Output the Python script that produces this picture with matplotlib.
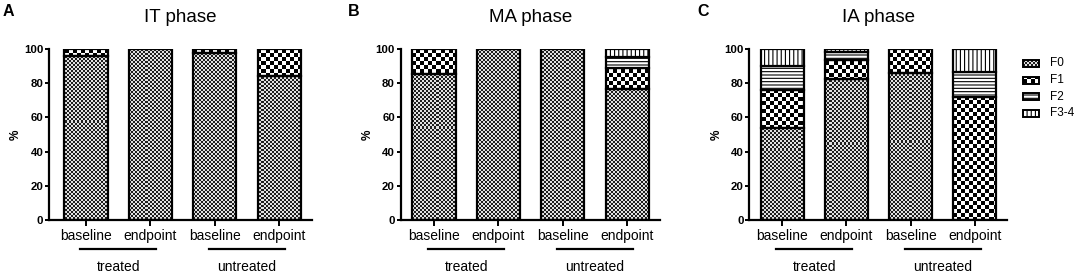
import numpy as np
import matplotlib
matplotlib.use("Agg")
import matplotlib.pyplot as plt
from matplotlib.patches import Rectangle

plt.rcParams['font.family'] = ['Liberation Sans', 'DejaVu Sans']
plt.rcParams['hatch.linewidth'] = 0.8

# ---------------- data ----------------
categories = ['baseline', 'endpoint', 'baseline', 'endpoint']
groups = ['treated', 'untreated']
stages = ['F0', 'F1', 'F2', 'F3-4']
panel_titles = ['IT phase', 'MA phase', 'IA phase']
panel_letters = ['A', 'B', 'C']
yticks = [0, 20, 40, 60, 80, 100]

it_f0 = [96.0, 100.0, 97.5, 84.5]
it_f1 = [4.0, 0.0, 2.5, 15.5]
it_f2 = [0.0, 0.0, 0.0, 0.0]
it_f3 = [0.0, 0.0, 0.0, 0.0]

ma_f0 = [85.5, 100.0, 100.0, 76.5]
ma_f1 = [14.5, 0.0, 0.0, 12.2]
ma_f2 = [0.0, 0.0, 0.0, 6.8]
ma_f3 = [0.0, 0.0, 0.0, 4.5]

ia_f0 = [54.0, 82.5, 86.0, 0.0]
ia_f1 = [22.0, 11.0, 14.0, 72.0]
ia_f2 = [14.0, 4.5, 0.0, 14.5]
ia_f3 = [10.0, 2.0, 0.0, 13.5]

panels = [
    [it_f0, it_f1, it_f2, it_f3],
    [ma_f0, ma_f1, ma_f2, ma_f3],
    [ia_f0, ia_f1, ia_f2, ia_f3],
]

# ---------------- styling ----------------
W, H = 1084, 276
fig = plt.figure(figsize=(W / 100, H / 100), dpi=100)
fig.patch.set_facecolor('white')

# axes boxes in pixels: (left, right)
ax_px = [(49, 312), (400.5, 660), (749.3, 1007)]
xlims = [(-0.575, 3.51), (-0.52, 3.51), (-0.51, 3.50)]
ax_top, ax_bot = 49, 220
bar_w = 0.67


def checker(h, w, cell, c0, c1):
    yy, xx = np.indices((h, w))
    return np.where(((yy // cell) + (xx // cell)) % 2 == 0, c0, c1)


# texture spec: F0 fine checker, F1 coarse checker, F2 horiz, F3 vert hatch
tex = {0: (2, 0.12, 0.88), 1: (4, 0.0, 1.0)}
hatches = {2: '-----', 3: '||||'}

x = np.arange(len(categories))
for p, series in enumerate(panels):
    l, r = ax_px[p]
    ax = fig.add_axes([l / W, (H - ax_bot) / H, (r - l) / W, (ax_bot - ax_top) / H])
    ax.set_xlim(*xlims[p])
    ax.set_ylim(0, 100)
    pw, ph = int(round(r - l)), ax_bot - ax_top
    bottom = np.zeros(len(categories))
    for s, vals in enumerate(series):
        vals = np.array(vals, dtype=float)
        if s in hatches:
            bars = ax.bar(x, vals, bar_w, bottom=bottom, facecolor='white',
                          edgecolor='black', linewidth=1.6, hatch=hatches[s], zorder=2)
        else:
            bars = ax.bar(x, vals, bar_w, bottom=bottom, facecolor='none',
                          edgecolor='black', linewidth=1.6, zorder=2)
        for patch, v in zip(bars.patches, vals):
            if v <= 0:
                patch.set_visible(False)
                continue
            if s in tex:
                cell, c0, c1 = tex[s]
                img = ax.imshow(checker(ph, pw, cell, c0, c1), cmap='gray', vmin=0, vmax=1,
                                extent=(*xlims[p], 0, 100), aspect='auto',
                                interpolation='nearest', zorder=1.5)
                img.set_clip_path(patch)
        bottom = bottom + vals
    ax.set_xlim(*xlims[p])
    ax.set_ylim(0, 100)

    for side in ['top', 'right']:
        ax.spines[side].set_visible(False)
    for side in ['left', 'bottom']:
        ax.spines[side].set_linewidth(1.6)
        ax.spines[side].set_zorder(3)
    ax.set_yticks(yticks, [str(t) for t in yticks], fontweight='bold', fontsize=8.2)
    ax.set_xticks(x, categories, fontsize=10)
    ax.tick_params(axis='y', length=3, width=1.4, pad=1)
    ax.tick_params(axis='x', length=4.5, width=1.4, pad=2)

    # group lines and labels
    tr = ax.get_xaxis_transform()
    for g, name in enumerate(groups):
        c = (x[2 * g] + x[2 * g + 1]) / 2
        ax.plot([c - 0.59, c + 0.59], [-0.17, -0.17], color='black', lw=1.6,
                transform=tr, clip_on=False)
        ax.text(c, -0.275, name, transform=tr, ha='center', va='center', fontsize=10)

    ax.text(0.5, (ax_bot - 17) / ph, panel_titles[p], transform=ax.transAxes,
            ha='center', va='center', fontsize=13.5)
    ax.text(-33 / (r - l), 0.5, '%', transform=ax.transAxes, rotation=90,
            ha='center', va='center', fontsize=8.5, fontweight='bold')

# panel letters
for lx, letter in zip([3, 348, 697], panel_letters):
    fig.text(lx / W, 1 - 4 / H, letter, ha='left', va='top', fontsize=11.5, fontweight='bold')

# legend (manual, in pixel coordinates)
lax = fig.add_axes([1015 / W, 0, 69 / W, 1])
lax.set_xlim(1015, 1084)
lax.set_ylim(H, 0)
lax.axis('off')
rows_y = [63.5, 80, 96.7, 113]
for s, (ry, name) in enumerate(zip(rows_y, stages)):
    rx0, rw, rh = 1023, 16, 7
    rect = Rectangle((rx0, ry - rh / 2), rw, rh, facecolor='white' if s in hatches else 'none',
                     edgecolor='black', linewidth=1.4, hatch=hatches.get(s, None), zorder=2)
    lax.add_patch(rect)
    if s in tex:
        cell, c0, c1 = tex[s]
        im = lax.imshow(checker(276, 69, cell, c0, c1), cmap='gray', vmin=0, vmax=1,
                        extent=(1015, 1084, H, 0), aspect='auto', interpolation='nearest',
                        zorder=1.5)
        im.set_clip_path(rect)
    lax.text(1050, ry, name, ha='left', va='center', fontsize=8.5)
lax.set_xlim(1015, 1084)
lax.set_ylim(H, 0)

fig.savefig('out.png', dpi=100)
